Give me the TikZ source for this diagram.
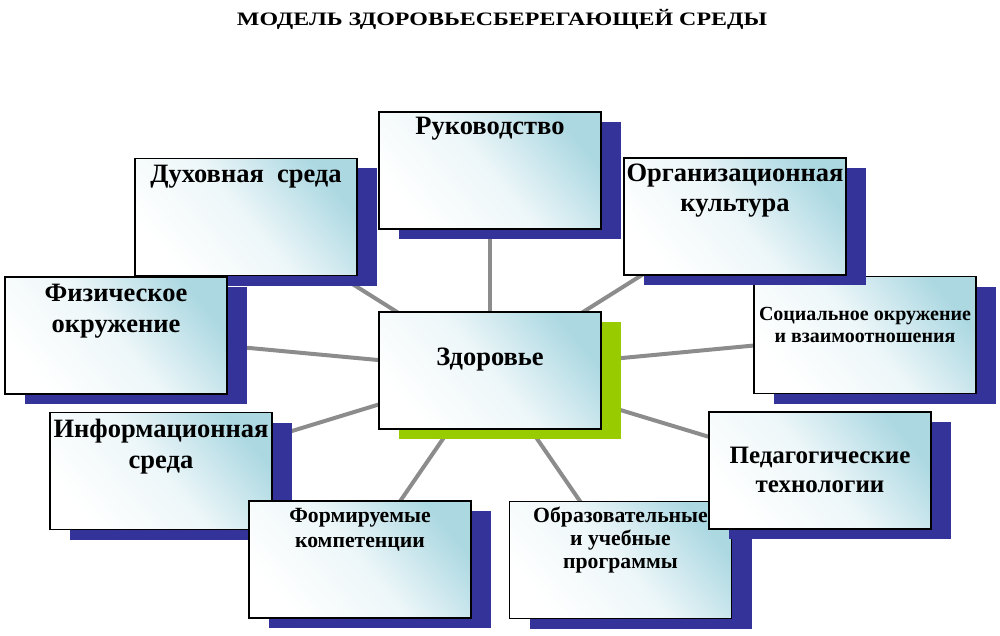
\documentclass[tikz,border=0pt]{standalone}
\usepackage{fontspec}
\setmainfont{Liberation Serif}
\usepackage{graphicx}
\usetikzlibrary{shadows,backgrounds}
\definecolor{shblue}{RGB}{51,51,153}
\definecolor{shgreen}{RGB}{153,204,0}
\definecolor{boxblue}{RGB}{172,216,226}
\definecolor{linegray}{RGB}{140,140,140}
\tikzset{
  panel/.style={draw=black, line width=1.2pt, minimum width=222pt, minimum height=117pt,
    inner sep=0pt, top color=boxblue, bottom color=white, middle color=boxblue!22!white,
    shading angle=-50,
    general shadow={fill=#1, shadow xshift=20pt, shadow yshift=-10pt}},
  panel/.default=shblue,
  bigtxt/.style={font=\fontsize{26.5}{30.5}\selectfont\bfseries, align=center, anchor=base, inner sep=0pt},
  medtxt/.style={font=\fontsize{25}{29}\selectfont\bfseries, align=center, anchor=base, inner sep=0pt},
  smalltxt/.style={font=\fontsize{21.7}{25}\selectfont\bfseries, align=center, anchor=base, inner sep=0pt},
  obrtxt/.style={font=\fontsize{21.7}{23}\selectfont\bfseries, align=center, anchor=base, inner sep=0pt},
  soctxt/.style={font=\fontsize{20}{22}\selectfont\bfseries, align=center, anchor=base, inner sep=0pt},
  conn/.style={draw=linegray, line width=4pt}
}
\begin{document}
\begin{tikzpicture}[x=1pt,y=-1pt]
\useasboundingbox (0,0) rectangle (1000,636);
\node[anchor=base, inner sep=0pt] (title) at (502,26)
  {\scalebox{1.26}[1]{\fontsize{19}{22}\selectfont\bfseries МОДЕЛЬ ЗДОРОВЬЕСБЕРЕГАЮЩЕЙ СРЕДЫ}};

\node[panel] (ruk) at (490,170.5) {};
\node[bigtxt] (rukt) at (490,135) {Руководство};

\node[panel] (duh) at (246,217) {};
\node[bigtxt] (duht) at (246,183) {Духовная~ среда};

\node[panel] (fiz) at (116,335.5) {};
\node[bigtxt] (fizt) at (116,332) {Физическое\\окружение};

\node[panel] (inf) at (161,471) {};
\node[bigtxt] (inft) at (161,468) {Информационная\\среда};

\node[panel] (frm) at (360,559.5) {};
\node[smalltxt] (frmt) at (360,547) {Формируемые\\компетенции};

\node[panel] (obr) at (620.5,560) {};
\node[obrtxt] (obrt) at (620.5,568) {Образовательные\\и учебные\\программы};

\node[panel] (ped) at (820,470.5) {};
\node[medtxt] (pedt) at (820,492) {Педагогические\\технологии};

\node[panel] (soc) at (865,335) {};
\node[soctxt] (soct) at (865,342) {Социальное окружение\\и взаимоотношения};

\node[panel] (org) at (735,216.5) {};
\node[bigtxt] (orgt) at (735,212) {Организационная\\культура};

\node[panel=shgreen] (zd) at (490,370.5) {};
\node[bigtxt] (zdt) at (490,365) {Здоровье};

\begin{pgfonlayer}{background}
  \foreach \n in {ruk,duh,fiz,inf,frm,obr,ped,soc,org}
    \draw[conn] (zd.center) -- (\n.center);
\end{pgfonlayer}
\end{tikzpicture}
\end{document}
